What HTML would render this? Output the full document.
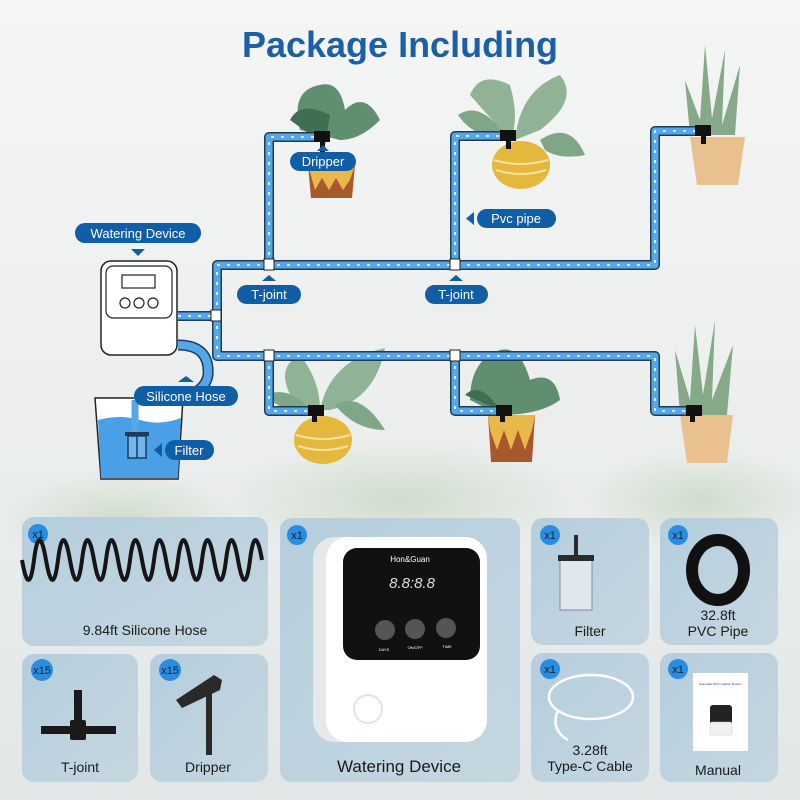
<!DOCTYPE html>
<html><head><meta charset="utf-8"><style>
body{margin:0;width:800px;height:800px;overflow:hidden;font-family:"Liberation Sans",sans-serif;}
</style></head><body>
<svg width="800" height="800" viewBox="0 0 800 800" xmlns="http://www.w3.org/2000/svg" font-family="Liberation Sans, sans-serif">
<defs>
<linearGradient id="bg" x1="0" y1="0" x2="0" y2="1">
<stop offset="0" stop-color="#f4f5f5"/><stop offset="0.55" stop-color="#eceeee"/><stop offset="1" stop-color="#e2e6e6"/>
</linearGradient>
<radialGradient id="gb" cx="0.5" cy="0.5" r="0.5"><stop offset="0" stop-color="#c9d9c4" stop-opacity="0.8"/><stop offset="1" stop-color="#c9d9c4" stop-opacity="0"/></radialGradient>
<linearGradient id="card" x1="0" y1="0" x2="1" y2="1"><stop offset="0" stop-color="#b3cddd"/><stop offset="1" stop-color="#c3d6e0"/></linearGradient>
</defs>
<rect width="800" height="800" fill="url(#bg)"/>
<ellipse cx="400" cy="500" rx="180" ry="60" fill="url(#gb)"/>
<ellipse cx="120" cy="520" rx="120" ry="50" fill="url(#gb)"/>
<ellipse cx="700" cy="500" rx="120" ry="50" fill="url(#gb)"/>

<text x="400" y="57" text-anchor="middle" font-size="36" font-weight="bold" fill="#1b5fa9">Package Including</text>

<!-- plants -->
<g>
 <path d="M300 130 Q290 90 320 85 Q340 80 345 110 Q365 90 380 120 Q360 140 340 140 Z" fill="#5f8f6e"/>
 <path d="M290 120 Q300 100 330 115 L325 145 Z" fill="#3f6e50"/>
 <path d="M308 165 L355 165 L352 198 L311 198 Z" fill="#a8582c"/>
 <path d="M308 165 L355 165 L350 180 L343 190 L336 178 L329 190 L322 178 L315 190 Z" fill="#e8b84a"/>
 <path d="M470 95 Q480 70 510 85 Q520 120 510 140 Z" fill="#8fb394"/>
 <path d="M515 140 Q520 90 560 75 Q580 100 540 130 Z" fill="#8fb394"/>
 <path d="M540 140 Q570 120 585 155 Q560 160 545 150 Z" fill="#7fa686"/>
 <path d="M458 115 Q480 100 505 135 Q475 140 458 115 Z" fill="#7fa686"/>
 <ellipse cx="521" cy="165" rx="29" ry="24" fill="#e3b83d"/>
 <path d="M494 160 Q521 168 548 160" stroke="#f7e3a1" stroke-width="2" fill="none"/>
 <path d="M496 170 Q521 178 546 170" stroke="#f7e3a1" stroke-width="2" fill="none"/>
 <path d="M690 135 L685 80 L700 120 L705 45 L712 118 L725 50 L722 125 L740 65 L735 135 Z" fill="#86a98a"/>
 <path d="M690 137 L745 137 L738 185 L697 185 Z" fill="#e8c18f"/>
 <path d="M300 410 Q270 370 300 355 Q320 380 320 410 Z" fill="#8fb394"/>
 <path d="M320 410 Q330 360 385 348 Q375 400 330 410 Z" fill="#8fb394"/>
 <path d="M335 405 Q360 390 385 430 Q355 430 335 405 Z" fill="#7fa686"/>
 <path d="M265 395 Q290 385 310 410 Q285 415 265 395 Z" fill="#7fa686"/>
 <ellipse cx="323" cy="440" rx="29" ry="24" fill="#e3b83d"/>
 <path d="M296 435 Q323 443 350 435" stroke="#f7e3a1" stroke-width="2" fill="none"/>
 <path d="M298 446 Q323 454 348 446" stroke="#f7e3a1" stroke-width="2" fill="none"/>
 <path d="M470 400 Q470 360 500 350 Q520 345 530 380 Q555 370 560 400 Q540 415 500 415 Z" fill="#5f8f6e"/>
 <path d="M465 395 Q480 380 500 410 Z" fill="#3f6e50"/>
 <path d="M488 415 L535 415 L532 462 L491 462 Z" fill="#a8582c"/>
 <path d="M488 415 L535 415 L532 430 L525 450 L518 430 L511 450 L504 430 L497 450 L490 430 Z" fill="#e8b84a"/>
 <path d="M680 415 L675 350 L690 400 L695 325 L703 395 L715 320 L712 400 L733 345 L727 415 Z" fill="#86a98a"/>
 <path d="M680 415 L733 415 L727 463 L687 463 Z" fill="#e8c18f"/>
</g>

<!-- pipes -->
<g fill="none" stroke-linejoin="round">
 <g stroke="#1e3b5a" stroke-width="10">
  <path d="M178 316 H217 V265 H655 V131 H700"/>
  <path d="M217 316 V356 H655 V411 H690"/>
  <path d="M269 265 V137 H318"/>
  <path d="M455 265 V136 H505"/>
  <path d="M269 356 V411 H312"/>
  <path d="M455 356 V411 H500"/>
 </g>
 <g stroke="#56a6ea" stroke-width="7">
  <path d="M178 316 H217 V265 H655 V131 H700"/>
  <path d="M217 316 V356 H655 V411 H690"/>
  <path d="M269 265 V137 H318"/>
  <path d="M455 265 V136 H505"/>
  <path d="M269 356 V411 H312"/>
  <path d="M455 356 V411 H500"/>
 </g>
 <g stroke="#ffffff" stroke-width="1.6" stroke-dasharray="3 7">
  <path d="M178 316 H217 V265 H655 V131 H700"/>
  <path d="M217 316 V356 H655 V411 H690"/>
  <path d="M269 265 V137 H318"/>
  <path d="M455 265 V136 H505"/>
  <path d="M269 356 V411 H312"/>
  <path d="M455 356 V411 H500"/>
 </g>
</g>
<g fill="#fff" stroke="#222" stroke-width="1">
 <rect x="211" y="310" width="10" height="11"/>
 <rect x="264" y="259" width="10" height="11"/><rect x="450" y="259" width="10" height="11"/>
 <rect x="264" y="350" width="10" height="11"/><rect x="450" y="350" width="10" height="11"/>
</g>
<g fill="#111">
 <rect x="314" y="131" width="16" height="11"/><rect x="320" y="140" width="5" height="12"/>
 <rect x="500" y="130" width="16" height="11"/><rect x="506" y="139" width="5" height="10"/>
 <rect x="695" y="125" width="16" height="11"/><rect x="701" y="134" width="5" height="10"/>
 <rect x="308" y="405" width="16" height="11"/><rect x="312" y="414" width="5" height="8"/>
 <rect x="496" y="405" width="16" height="11"/><rect x="500" y="414" width="5" height="8"/>
 <rect x="686" y="405" width="16" height="11"/><rect x="690" y="414" width="5" height="8"/>
</g>

<path d="M178 345 Q210 345 208 375 Q205 395 170 400 Q135 405 135 430 L135 440" fill="none" stroke="#1e3b5a" stroke-width="11"/>
<path d="M178 345 Q210 345 208 375 Q205 395 170 400 Q135 405 135 430 L135 440" fill="none" stroke="#56a6ea" stroke-width="8"/>
<rect x="101" y="261" width="76" height="94" rx="10" fill="#fff" stroke="#222" stroke-width="1.5"/>
<rect x="106" y="266" width="66" height="52" rx="7" fill="#fff" stroke="#222" stroke-width="1.2"/>
<rect x="122" y="275" width="33" height="13" fill="#fff" stroke="#222" stroke-width="1.2"/>
<circle cx="125" cy="303" r="5" fill="#fff" stroke="#222" stroke-width="1.2"/>
<circle cx="139" cy="303" r="5" fill="#fff" stroke="#222" stroke-width="1.2"/>
<circle cx="153" cy="303" r="5" fill="#fff" stroke="#222" stroke-width="1.2"/>
<path d="M95 398 L183 398 L178 479 L101 479 Z" fill="#fff" stroke="#222" stroke-width="1.5"/>
<path d="M98 420 Q120 414 140 420 Q160 426 181 418 L178 478 L101 478 Z" fill="#4aa0e6"/>
<path d="M135 400 L135 440" stroke="#56a6ea" stroke-width="7"/>
<rect x="125" y="432" width="24" height="4" fill="#1e3b5a"/>
<rect x="128" y="436" width="18" height="22" fill="#6fb7ee" stroke="#1e3b5a" stroke-width="1.5"/>
<line x1="137" y1="436" x2="137" y2="458" stroke="#1e3b5a" stroke-width="1.5"/>

<g font-size="13" fill="#fff" text-anchor="middle">
 <rect x="75" y="223" width="126" height="20" rx="10" fill="#0f5ea6"/><text x="138" y="238">Watering Device</text>
 <path d="M131 249 L145 249 L138 256 Z" fill="#0f5ea6"/>
 <rect x="290" y="152" width="66" height="19" rx="9.5" fill="#0f5ea6"/><text x="323" y="166">Dripper</text>
 <path d="M317 151 L329 151 L323 145 Z" fill="#0f5ea6"/>
 <rect x="477" y="209" width="79" height="19" rx="9.5" fill="#0f5ea6"/><text x="516" y="223">Pvc pipe</text>
 <path d="M474 212 L474 225 L466 218.5 Z" fill="#0f5ea6"/>
 <rect x="237" y="285" width="64" height="19" rx="9.5" fill="#0f5ea6"/><text x="269" y="299">T-joint</text>
 <path d="M262 281 L276 281 L269 275 Z" fill="#0f5ea6"/>
 <rect x="425" y="285" width="63" height="19" rx="9.5" fill="#0f5ea6"/><text x="456" y="299">T-joint</text>
 <path d="M449 281 L463 281 L456 275 Z" fill="#0f5ea6"/>
 <rect x="134" y="386" width="104" height="20" rx="10" fill="#0f5ea6"/><text x="186" y="401">Silicone Hose</text>
 <path d="M178 382 L194 382 L186 376 Z" fill="#0f5ea6"/>
 <rect x="165" y="440" width="49" height="20" rx="10" fill="#0f5ea6"/><text x="189" y="455">Filter</text>
 <path d="M162 443 L162 457 L154 450 Z" fill="#0f5ea6"/>
</g>

<g fill="url(#card)" opacity="0.95">
 <rect x="22" y="517" width="246" height="129" rx="12"/>
 <rect x="22" y="654" width="116" height="128" rx="12"/>
 <rect x="150" y="654" width="118" height="128" rx="12"/>
 <rect x="280" y="518" width="240" height="264" rx="12"/>
 <rect x="531" y="518" width="118" height="127" rx="12"/>
 <rect x="660" y="518" width="118" height="127" rx="12"/>
 <rect x="531" y="653" width="118" height="129" rx="12"/>
 <rect x="660" y="653" width="118" height="129" rx="12"/>
</g>
<g fill="#2a8de0">
 <circle cx="38" cy="534" r="10"/><circle cx="42" cy="670" r="11"/><circle cx="170" cy="670" r="11"/>
 <circle cx="297" cy="535" r="10"/><circle cx="550" cy="535" r="10"/><circle cx="678" cy="535" r="10"/>
 <circle cx="550" cy="669" r="10"/><circle cx="678" cy="669" r="10"/>
</g>
<g font-size="11" fill="#123" text-anchor="middle">
 <text x="38" y="538">x1</text><text x="42" y="674">x15</text><text x="170" y="674">x15</text>
 <text x="297" y="539">x1</text><text x="550" y="539">x1</text><text x="678" y="539">x1</text>
 <text x="550" y="673">x1</text><text x="678" y="673">x1</text>
</g>

<!-- coil hose -->
<path d="M22 560 q7 40 12 0 t12 0 t12 0 t12 0 t12 0 t12 0 t12 0 t12 0 t12 0 t12 0 t12 0 t12 0 t12 0 t12 0 t12 0 t12 0 t12 0 t12 0 t12 0 t12 0" fill="none" stroke="#151515" stroke-width="4"/>
<!-- t-joint -->
<g fill="#1a1a1a"><rect x="41" y="726" width="75" height="8"/><rect x="70" y="720" width="16" height="20" rx="2"/><rect x="74" y="690" width="8" height="32"/></g>
<!-- dripper -->
<g fill="#2a2a2a"><rect x="206" y="680" width="6" height="75"/><path d="M176 700 L214 675 L222 680 L220 690 L182 708 Z"/></g>
<!-- watering device photo -->
<rect x="313" y="537" width="174" height="205" rx="22" fill="#e6e9ea"/>
<rect x="326" y="537" width="161" height="205" rx="22" fill="#ffffff"/>
<rect x="343" y="548" width="137" height="112" rx="14" fill="#111"/>
<text x="410" y="562" font-size="8" fill="#fff" text-anchor="middle">Hon&amp;Guan</text>
<text x="412" y="588" font-size="15" fill="#ddd" text-anchor="middle" font-style="italic">8.8:8.8</text>
<circle cx="385" cy="630" r="10" fill="#555"/><circle cx="415" cy="629" r="10" fill="#555"/><circle cx="446" cy="628" r="10" fill="#555"/>
<text x="384" y="651" font-size="4" fill="#fff" text-anchor="middle">DAYS</text>
<text x="415" y="649" font-size="4" fill="#fff" text-anchor="middle">ON/OFF</text>
<text x="447" y="648" font-size="4" fill="#fff" text-anchor="middle">TIME</text>
<circle cx="368" cy="709" r="14" fill="none" stroke="#e2e4e6" stroke-width="2"/>
<!-- filter -->
<rect x="560" y="560" width="32" height="50" fill="#dfe8ee" stroke="#889" stroke-width="1"/>
<rect x="558" y="555" width="36" height="6" fill="#2b2b2b"/><rect x="574" y="535" width="4" height="22" fill="#2b2b2b"/>
<!-- pvc coil -->
<ellipse cx="718" cy="570" rx="26" ry="30" fill="none" stroke="#111" stroke-width="12"/>
<!-- cable -->
<ellipse cx="591" cy="697" rx="42" ry="22" fill="none" stroke="#fff" stroke-width="2.5"/>
<path d="M558 710 Q550 730 568 740" stroke="#fff" stroke-width="2.5" fill="none"/>
<!-- manual -->
<rect x="693" y="673" width="55" height="78" fill="#fff"/>
<rect x="710" y="705" width="22" height="20" rx="3" fill="#222"/><rect x="710" y="722" width="22" height="13" rx="2" fill="#f2f2f2" stroke="#ccc" stroke-width="0.5"/>
<text x="720" y="685" font-size="3" text-anchor="middle" fill="#333">Automatic Drip Irrigation Device</text>
<g font-size="14" fill="#1a1a1a" text-anchor="middle">
 <text x="145" y="635">9.84ft Silicone Hose</text>
 <text x="80" y="772">T-joint</text>
 <text x="208" y="772">Dripper</text>
 <text x="590" y="636">Filter</text>
 <text x="718" y="620">32.8ft</text><text x="718" y="636">PVC Pipe</text>
 <text x="590" y="755">3.28ft</text><text x="590" y="771">Type-C Cable</text>
 <text x="718" y="775">Manual</text>
</g>
<text x="399" y="772" font-size="17" fill="#1a1a1a" text-anchor="middle">Watering Device</text>
</svg>
</body></html>
